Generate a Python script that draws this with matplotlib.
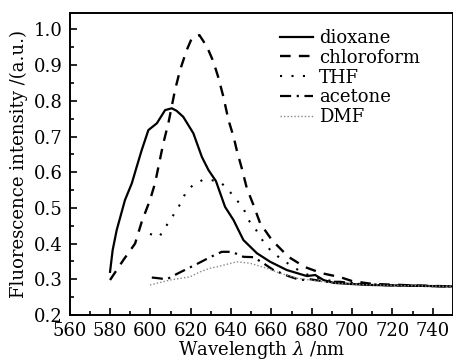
import matplotlib
matplotlib.use('Agg')
import matplotlib.pyplot as plt
from matplotlib.ticker import MultipleLocator

plt.rcParams['font.family'] = ['DejaVu Serif']
plt.rcParams['mathtext.fontset'] = 'dejavuserif'

# spectra (wavelength nm, normalised intensity)
dioxane_x = [580, 581.3, 583.3, 587.4, 590.8, 593.2, 595.7, 599, 603.2, 607.3, 610.6, 613, 616.3,
             621.3, 625.5, 628.8, 632.5, 637, 641.2, 646.1, 652.8, 659.4, 667.6, 677.6,
             681.7, 685.8, 690.8, 699, 710, 720, 740, 750]
dioxane_y = [0.321, 0.382, 0.438, 0.522, 0.569, 0.615, 0.662, 0.718, 0.737, 0.774, 0.779, 0.772, 0.755,
             0.709, 0.643, 0.606, 0.575, 0.503, 0.466, 0.41, 0.373, 0.349, 0.326, 0.309,
             0.312, 0.298, 0.29, 0.287, 0.284, 0.283, 0.281, 0.28]

chloro_x = [580, 586.6, 592.4, 595.7, 599.8, 602.3, 606.4, 608.9, 612.2, 614.7, 618, 620.5,
            624.3, 628, 631.2, 633.7, 636.2, 638.7, 641.2, 642.8, 645.3, 647.8, 651.1, 654.4,
            660.2, 668.4, 676.7, 685, 694.1, 700, 710, 730, 750]
chloro_y = [0.298, 0.354, 0.40, 0.461, 0.522, 0.569, 0.681, 0.737, 0.83, 0.886, 0.942, 0.975,
            0.984, 0.952, 0.91, 0.865, 0.811, 0.746, 0.70, 0.662, 0.611, 0.555, 0.508, 0.457,
            0.41, 0.363, 0.334, 0.317, 0.306, 0.295, 0.287, 0.283, 0.28]

thf_x = [599.8, 604.4, 607.8, 611.4, 614.7, 617.2, 621, 625.8, 630, 634.6, 638.7, 642.8,
         646.1, 648.6, 651.9, 655.2, 659.4, 664.3, 669.3, 675, 680, 690, 700, 720, 750]
thf_y = [0.427, 0.419, 0.449, 0.48, 0.51, 0.539, 0.564, 0.578, 0.578, 0.573, 0.55, 0.522,
         0.499, 0.466, 0.443, 0.412, 0.382, 0.359, 0.34, 0.32, 0.308, 0.295, 0.288, 0.283, 0.28]

acetone_x = [600.7, 604, 608.1, 613.1, 618.8, 623.8, 629.6, 635.4, 640.4, 646.1, 651.1, 656,
             661, 668.4, 674.2, 679.2, 687.5, 694, 705, 720, 750]
acetone_y = [0.305, 0.303, 0.300, 0.315, 0.331, 0.345, 0.362, 0.377, 0.377, 0.363, 0.362, 0.345,
             0.326, 0.309, 0.298, 0.300, 0.293, 0.293, 0.286, 0.283, 0.28]

dmf_x = [599.8, 609.8, 619.7, 624.7, 629.6, 633, 642.8, 649.4, 657.7, 664.3, 672.6, 679.2,
         690, 705, 720, 750]
dmf_y = [0.284, 0.298, 0.307, 0.321, 0.331, 0.335, 0.349, 0.345, 0.331, 0.317, 0.303, 0.298,
         0.29, 0.285, 0.283, 0.28]

fs = 13

fig = plt.figure(figsize=(4.53, 3.61), dpi=100)
ax = fig.add_axes([69.7 / 453, 1 - 315 / 361, 1 - 69.7 / 453, (315 - 13) / 361])

ax.plot(dioxane_x, dioxane_y, color='black', lw=1.6, ls='-', label='dioxane')
ax.plot(chloro_x, chloro_y, color='black', lw=1.7, ls=(0, (4.5, 3.5)), label='chloroform')
ax.plot(thf_x, thf_y, color='black', lw=1.5, ls=(0, (1, 4.5)), label='THF')
ax.plot(acetone_x, acetone_y, color='black', lw=1.6, ls=(0, (5, 2.5, 1, 2.5)), label='acetone')
ax.plot(dmf_x, dmf_y, color='#888888', lw=1.0, ls=(0, (1, 1.5)), label='DMF')

ax.set_xlim(560, 750)
ax.set_ylim(0.2, 1.046)
ax.xaxis.set_major_locator(MultipleLocator(20))
ax.xaxis.set_minor_locator(MultipleLocator(10))
ax.yaxis.set_major_locator(MultipleLocator(0.1))
ax.yaxis.set_minor_locator(MultipleLocator(0.05))
ax.tick_params(which='both', direction='in', top=False, right=False, labelsize=fs, width=1.2)
ax.tick_params(which='major', length=5, pad=5)
ax.tick_params(which='minor', length=3)
for s in ax.spines.values():
    s.set_linewidth(1.4)

ax.set_xlabel('Wavelength $\\lambda$ /nm', fontsize=fs, labelpad=-0.5)
ax.set_ylabel('Fluorescence intensity /(a.u.)', fontsize=fs, labelpad=4)

fig.legend(loc='upper left', bbox_to_anchor=(280 / 453, 1 - 29 / 361), frameon=False,
           fontsize=fs, handlelength=1.8, handletextpad=0.35, labelspacing=0.1,
           borderpad=0, borderaxespad=0)

fig.savefig('out.png', dpi=100)
